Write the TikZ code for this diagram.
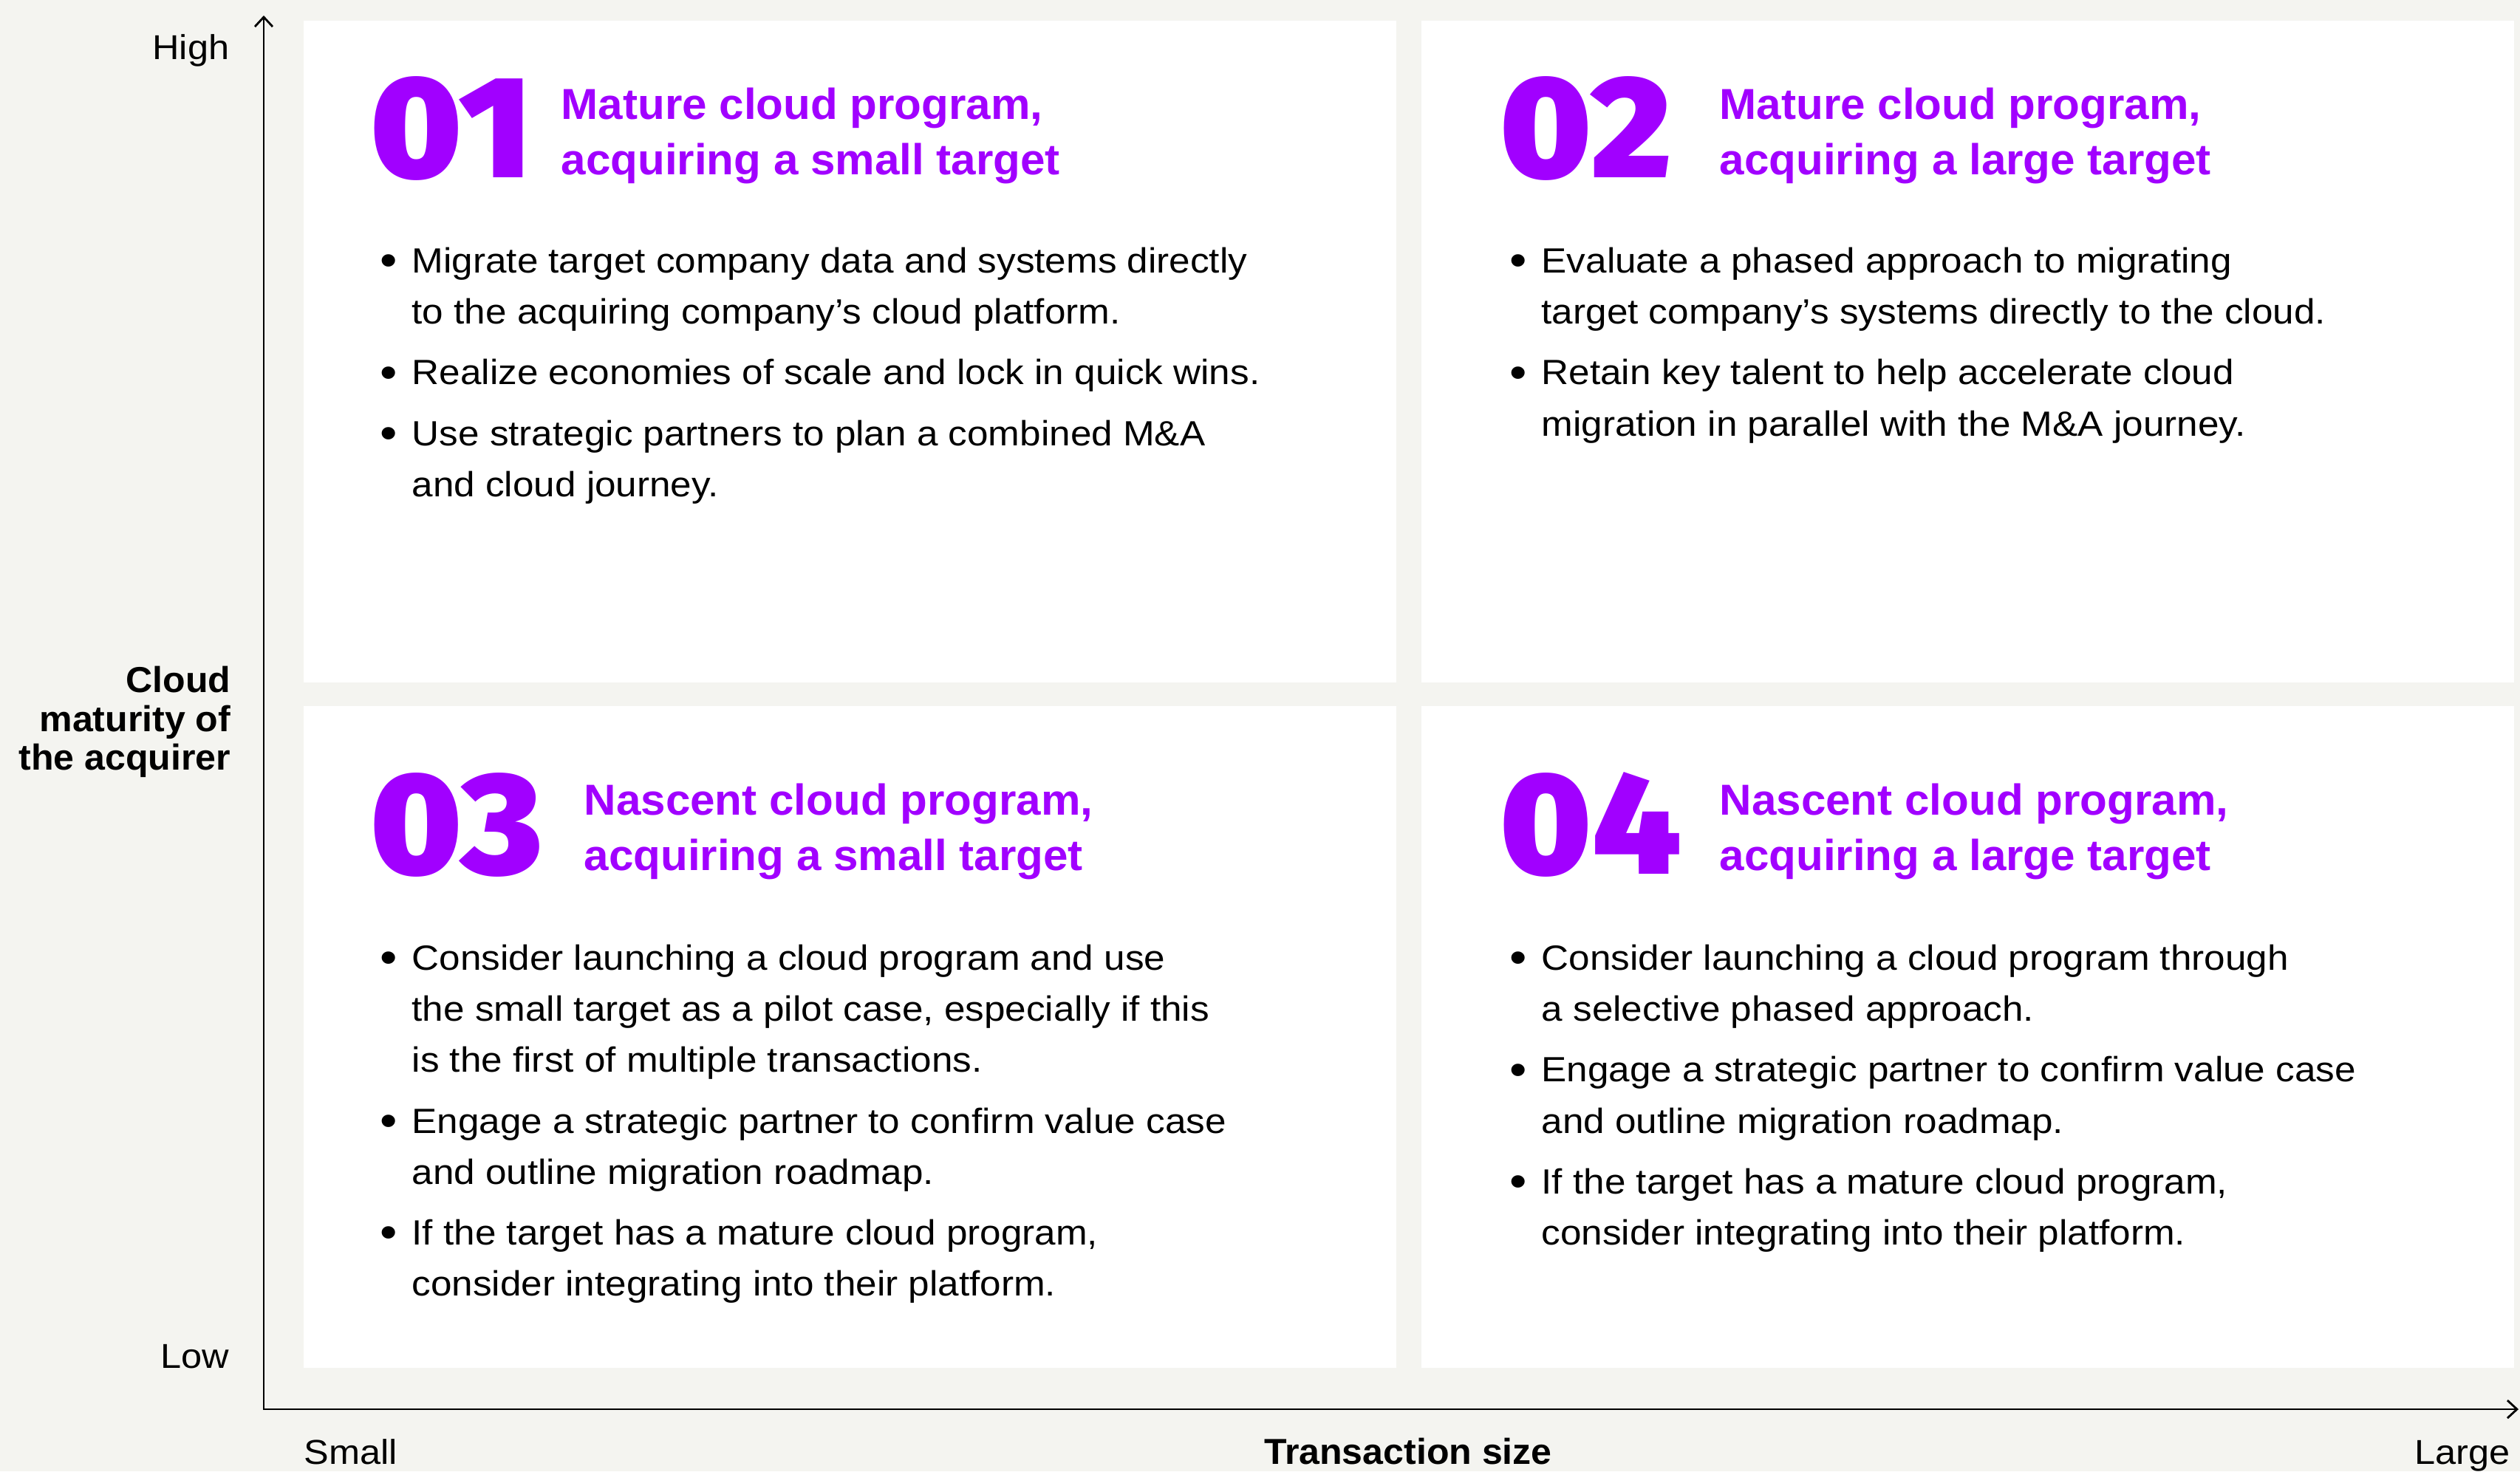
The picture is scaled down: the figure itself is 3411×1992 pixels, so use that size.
\documentclass[tikz,border=0pt]{standalone}
\usepackage{graphicx}
\usepackage{fontspec}
\setmainfont{Liberation Sans}[UprightFeatures={FakeStretch=1.08}, BoldFeatures={FakeStretch=1.025}]
\newfontfamily\numfont{Fira Sans Black}[FakeStretch=1.05]
\usetikzlibrary{arrows.meta}
\definecolor{accent}{HTML}{A100FF}
\definecolor{paper}{HTML}{F4F4F0}
\newcommand{\itembul}{\makebox[4.3mm][l]{\raisebox{-1.2pt}{\scalebox{1.3}{\textbullet}}}}
\newcommand{\itemcont}{\hspace*{4.3mm}}
\newcommand{\firstline}[1]{\rule{0pt}{#1}}
\tikzset{
  quad/.style      = {fill=white, draw=none},
  num/.style       = {anchor=base west, inner sep=0pt, text=accent, font=\numfont\fontsize{56}{56}\selectfont},
  heading/.style   = {anchor=north west, inner sep=0pt, align=left, text=accent, font=\bfseries\fontsize{16.7}{21.3}\selectfont},
  bullets/.style   = {anchor=north west, inner sep=0pt, align=left, font=\fontsize{13.5}{19.7}\selectfont},
  tick/.style      = {inner sep=0pt, font=\fontsize{13.3}{16}\selectfont},
  axislabel/.style = {inner sep=0pt, font=\bfseries\fontsize{13.9}{15}\selectfont},
  axis/.style      = {line width=0.8pt, {Straight Barb[length=1.3mm, width=2.4mm]}-{Straight Barb[length=1.3mm, width=2.4mm]}}
}

\begin{document}
\begin{tikzpicture}[x=0.1mm, y=-0.1mm]

% Background
\fill[paper] (0,0) rectangle (3411,1992);

% Quadrants
\fill[quad] (411,28) rectangle (1890,924);
\fill[quad] (1924,28) rectangle (3403,924);
\fill[quad] (411,956) rectangle (1890,1852);
\fill[quad] (1924,956) rectangle (3403,1852);

% Axes
\coordinate (ytop) at (357,21);
\coordinate (origin) at (357,1908);
\coordinate (xend) at (3409,1908);
\draw[axis] (ytop) -- (origin) -- (xend);

% Axis labels
\node[tick, anchor=base east] (high) at (311,80) {High};
\node[tick, anchor=base east] (low) at (311,1852) {Low};
\node[tick, anchor=base west] (small) at (411,1982) {Small};
\node[tick, anchor=base east] (large) at (3398,1982) {Large};
\node[axislabel, anchor=base] (xtitle) at (1906,1982) {Transaction size};
\node[axislabel, anchor=north east, align=right] (ytitle) at (313,898)
  {\firstline{11pt}Cloud\\maturity of\\the acquirer};

% Quadrant 01
\node[num] (n1) at (501,240) {01};
\node[heading] (h1) at (759,115) {\firstline{13pt}Mature cloud program,\\acquiring a small target};
\node[bullets] (b1) at (514,330) {\firstline{11pt}%
  \itembul Migrate target company data and systems directly\\
  \itemcont to the acquiring company’s cloud platform.\\[3.7pt]
  \itembul Realize economies of scale and lock in quick wins.\\[3.7pt]
  \itembul Use strategic partners to plan a combined M\&A\\
  \itemcont and cloud journey.};

% Quadrant 02
\node[num] (n2) at (2030,240) {02};
\node[heading] (h2) at (2327,115) {\firstline{13pt}Mature cloud program,\\acquiring a large target};
\node[bullets] (b2) at (2043,330) {\firstline{11pt}%
  \itembul Evaluate a phased approach to migrating\\
  \itemcont target company’s systems directly to the cloud.\\[3.7pt]
  \itembul Retain key talent to help accelerate cloud\\
  \itemcont migration in parallel with the M\&A journey.};

% Quadrant 03
\node[num] (n3) at (501,1183) {03};
\node[heading] (h3) at (790,1057) {\firstline{13pt}Nascent cloud program,\\acquiring a small target};
\node[bullets] (b3) at (514,1274) {\firstline{11pt}%
  \itembul Consider launching a cloud program and use\\
  \itemcont the small target as a pilot case, especially if this\\
  \itemcont is the first of multiple transactions.\\[3.7pt]
  \itembul Engage a strategic partner to confirm value case\\
  \itemcont and outline migration roadmap.\\[3.7pt]
  \itembul If the target has a mature cloud program,\\
  \itemcont consider integrating into their platform.};

% Quadrant 04
\node[num] (n4) at (2030,1183) {04};
\node[heading] (h4) at (2327,1057) {\firstline{13pt}Nascent cloud program,\\acquiring a large target};
\node[bullets] (b4) at (2043,1274) {\firstline{11pt}%
  \itembul Consider launching a cloud program through\\
  \itemcont a selective phased approach.\\[3.7pt]
  \itembul Engage a strategic partner to confirm value case\\
  \itemcont and outline migration roadmap.\\[3.7pt]
  \itembul If the target has a mature cloud program,\\
  \itemcont consider integrating into their platform.};

\end{tikzpicture}
\end{document}
